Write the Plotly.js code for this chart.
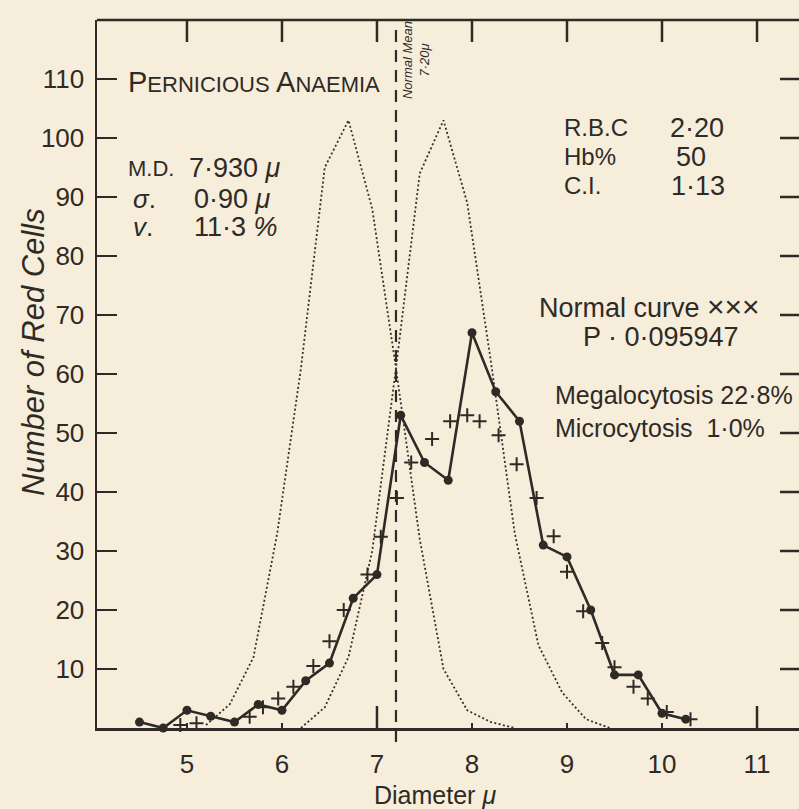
<!DOCTYPE html>
<html>
<head>
<meta charset="utf-8">
<script src="https://cdn.plot.ly/plotly-3.0.1.min.js"></script>
<style>html,body{margin:0;padding:0;background:#f7eddb;}</style>
</head>
<body>
<div id="chart" style="width:799px;height:809px;"></div>
<script>
// Observed distribution (solid line, dots)
const obsX = [4.5, 4.75, 5.0, 5.25, 5.5, 5.75, 6.0, 6.25, 6.5, 6.75, 7.0, 7.25, 7.5, 7.75, 8.0, 8.25, 8.5, 8.75, 9.0, 9.25, 9.5, 9.75, 10.0, 10.25];
const obsY = [1, 0, 3, 2, 1, 4, 3, 8, 11, 22, 26, 53, 45, 42, 67, 57, 52, 31, 29, 20, 9, 9, 2.5, 1.5];
// Fitted normal curve (crosses)
const fitX = [4.93, 5.1, 5.66, 5.8, 5.96, 6.12, 6.33, 6.5, 6.65, 6.9, 7.04, 7.21, 7.36, 7.58, 7.77, 7.95, 8.08, 8.28, 8.47, 8.68, 8.86, 9.0, 9.17, 9.37, 9.5, 9.7, 9.85, 10.05, 10.3];
const fitY = [0.5, 0.8, 1.9, 3.5, 5, 7, 10.5, 14.7, 20, 26, 32.4, 39, 45, 49, 52, 53, 52, 49.6, 44.7, 39, 32.5, 26.5, 19.8, 14.4, 10.3, 7, 5, 2.7, 1.5];
// Normal range curves (dotted)
const lowX = [5.2, 5.45, 5.7, 5.95, 6.2, 6.45, 6.7, 6.95, 7.2, 7.45, 7.7, 7.95, 8.2, 8.45];
const lowY = [0.5, 4, 12, 33, 61, 95, 103, 88, 61, 32, 10, 3, 1, 0];
const highX = [6.2, 6.45, 6.7, 6.95, 7.2, 7.45, 7.7, 7.95, 8.2, 8.45, 8.7, 8.95, 9.2, 9.45];
const highY = [0, 3.5, 12, 30, 61, 94, 103, 89, 62, 33, 14, 6, 1.5, 0];
const normalMean = 7.2;
// Axis ticks
const xTicks = [5, 6, 7, 8, 9, 10, 11];
const xTickText = ['5', '6', '7', '8', '9', '10', '11'];
const yTicks = [10, 20, 30, 40, 50, 60, 70, 80, 90, 100, 110];
const yTickText = ['10', '20', '30', '40', '50', '60', '70', '80', '90', '100', '110'];
const longBottomTicks = [7, 11];

const ink = '#2e2a26';
const FONT = 'Liberation Sans, Arial, sans-serif';

const traces = [
  {x: lowX, y: lowY, mode: 'lines', line: {color: '#35302b', width: 1.8, dash: '2px,2.4px'}, hoverinfo: 'skip'},
  {x: highX, y: highY, mode: 'lines', line: {color: '#35302b', width: 1.8, dash: '2px,2.4px'}, hoverinfo: 'skip'},
  {x: obsX, y: obsY, mode: 'lines+markers', line: {color: ink, width: 2.6},
   marker: {symbol: 'circle', size: 9, color: ink}, cliponaxis: false},
  {x: fitX, y: fitY, mode: 'markers', marker: {symbol: 'cross-thin', size: 10, line: {width: 2, color: ink}}, cliponaxis: false}
];

const shapes = [];
shapes.push({type: 'line', xref: 'paper', yref: 'paper', x0: 0, x1: 1, y0: 1, y1: 1, line: {color: ink, width: 2.5}});
xTicks.forEach(v => shapes.push({type: 'line', xref: 'x', yref: 'paper', x0: v, x1: v, y0: 1, y1: 1 - 22/708, line: {color: ink, width: 2.5}}));
longBottomTicks.forEach(v => shapes.push({type: 'line', xref: 'x', yref: 'paper', x0: v, x1: v, y0: 0, y1: 22/708, line: {color: ink, width: 2.5}}));
yTicks.forEach(v => shapes.push({type: 'line', xref: 'paper', yref: 'y', x0: 1 - 19/702, x1: 1, y0: v, y1: v, line: {color: ink, width: 2.5}}));
shapes.push({type: 'line', xref: 'x', yref: 'paper', x0: normalMean, x1: normalMean, y0: -14/708, y1: 705/708, line: {color: ink, width: 2.2, dash: '12px,8px'}});

function ann(text, x, y, size, opts) {
  return Object.assign({text: text, x: x, y: y, xref: 'x', yref: 'y', showarrow: false, xanchor: 'left', yanchor: 'middle',
    font: {family: FONT, size: size, color: ink}}, opts || {});
}
const sc = s => '<span style="font-size:22px">' + s + '</span>';
const annotations = [
  ann('P' + sc('ERNICIOUS') + ' A' + sc('NAEMIA'), 4.36, 109.5, 29),
  ann('M.D.', 4.36, 94.9, 22),
  ann('7·930 <i>μ</i>', 5.0, 94.9, 27),
  ann('<i>σ</i>.', 4.41, 89.7, 26),
  ann('0·90 <i>μ</i>', 5.05, 89.7, 27),
  ann('<i>v</i>.', 4.41, 84.9, 26),
  ann('11·3 <i>%</i>', 5.05, 84.9, 27),
  ann('R.B.C', 8.95, 101.7, 24),
  ann('2·20', 10.06, 101.7, 27),
  ann('Hb%', 8.95, 96.8, 24),
  ann('50', 10.13, 96.8, 27),
  ann('C.I.', 8.95, 91.9, 24),
  ann('1·13', 10.07, 91.9, 27),
  ann('Normal curve <span style="font-size:30px">×××</span>', 8.68, 71.4, 27),
  ann('P · 0·095947', 9.15, 66.3, 27),
  ann('Megalocytosis 22·8%', 8.85, 56.4, 25),
  ann('Microcytosis  1·0%', 8.85, 50.8, 25),
  ann('<i>Normal Mean</i><br><i>7·20μ</i>', 7.41, 113.2, 13, {xanchor: 'center', textangle: -90}),
  {text: 'Diameter <i>μ</i>', xref: 'paper', yref: 'paper', x: (435 - 97) / 702, y: -67 / 708, showarrow: false,
   xanchor: 'center', yanchor: 'middle', font: {family: FONT, size: 25, color: ink}},
  {text: '<i>Number of Red Cells</i>', xref: 'paper', yref: 'paper', x: (33 - 97) / 702, y: (728 - 352) / 708, showarrow: false,
   xanchor: 'center', yanchor: 'middle', textangle: -90, font: {family: FONT, size: 31, color: ink}}
];

const layout = {
  width: 799, height: 809,
  margin: {l: 97, r: 0, t: 20, b: 81},
  paper_bgcolor: '#f7eddb', plot_bgcolor: '#f7eddb',
  showlegend: false,
  font: {family: FONT, color: ink},
  xaxis: {range: [4.053, 11.442], showline: true, linewidth: 2.5, linecolor: ink, ticks: 'inside', ticklen: 5, tickwidth: 2,
    tickcolor: ink, tickvals: xTicks, ticktext: xTickText, tickfont: {family: FONT, size: 26, color: ink},
    showgrid: false, zeroline: false, ticklabelstandoff: 11},
  yaxis: {range: [0, 120], showline: true, linewidth: 2.5, linecolor: ink, ticks: 'inside', ticklen: 20, tickwidth: 2.5,
    tickcolor: ink, tickvals: yTicks, ticktext: yTickText, tickfont: {family: FONT, size: 26, color: ink},
    showgrid: false, zeroline: false, ticklabelstandoff: 5},
  shapes: shapes,
  annotations: annotations
};

Plotly.newPlot('chart', traces, layout, {displayModeBar: false, staticPlot: true});
</script>
</body>
</html>
